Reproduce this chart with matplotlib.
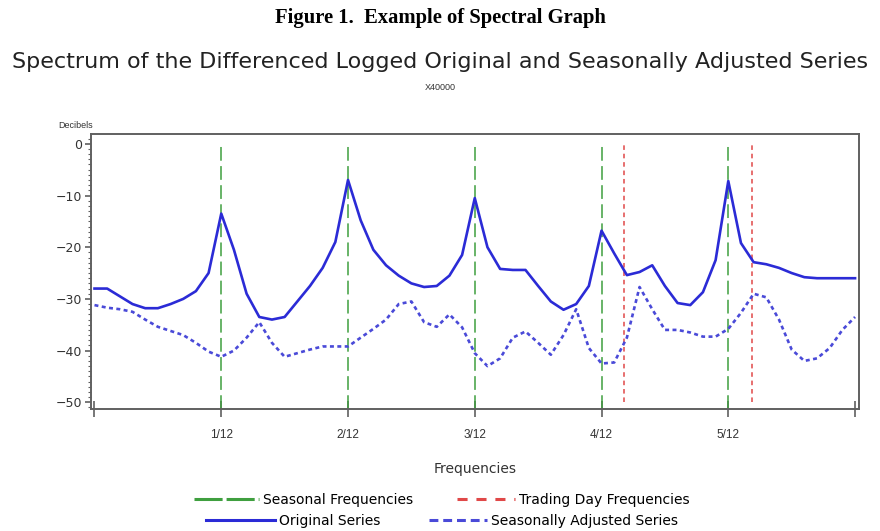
import numpy as np
import matplotlib
matplotlib.use("Agg")
import matplotlib.pyplot as plt
from matplotlib.lines import Line2D
from matplotlib.ticker import MultipleLocator

# spectrum grid: 61 frequencies from 0 to 0.5 cycles/month
freqs = np.arange(61) / 120

# differenced logged original series (decibels)
orig_db = [
    -28.0, -28.0, -29.5, -31.0, -31.8, -31.8, -31.0, -30.0, -28.5, -25.0,
    -13.5, -20.5, -29.0, -33.5, -34.0, -33.5, -30.5, -27.5, -24.0, -19.0,
    -7.0, -14.8, -20.5, -23.5, -25.5, -27.0, -27.7, -27.5, -25.5, -21.5,
    -10.5, -20.0, -24.2, -24.4, -24.4, -27.5, -30.5, -32.1, -31.0, -27.5,
    -16.8, -21.2, -25.4, -24.8, -23.5, -27.5, -30.8, -31.2, -28.7, -22.5,
    -7.2, -19.2, -22.9, -23.3, -24.0, -25.0, -25.8, -26.0, -26.0, -26.0,
    -26.0,
]

# differenced logged seasonally adjusted series (decibels)
sa_db = [
    -31.2, -31.7, -32.0, -32.5, -34.0, -35.4, -36.2, -37.0, -38.5, -40.2,
    -41.2, -40.0, -37.5, -34.5, -38.5, -41.2, -40.5, -39.8, -39.2, -39.2,
    -39.2, -37.5, -35.8, -34.0, -31.0, -30.5, -34.5, -35.4, -33.0, -35.5,
    -40.5, -43.0, -41.5, -37.5, -36.3, -38.5, -40.8, -37.0, -32.0, -39.5,
    -42.5, -42.3, -37.5, -27.7, -32.0, -36.0, -36.0, -36.5, -37.3, -37.3,
    -35.8, -32.7, -29.0, -29.7, -34.0, -39.8, -42.0, -41.5, -39.5, -36.0,
    -33.5,
]

seasonal_freqs = [1 / 12, 2 / 12, 3 / 12, 4 / 12, 5 / 12]
td_freqs = [0.348, 0.432]

xtick_vals = [0, 1 / 12, 2 / 12, 3 / 12, 4 / 12, 5 / 12, 6 / 12]
xtick_labels = ["", "1/12", "2/12", "3/12", "4/12", "5/12", ""]
ytick_vals = [0, -10, -20, -30, -40, -50]
ytick_labels = ["0", "\u221210", "\u221220", "\u221230", "\u221240", "\u221250"]

SANS = "Liberation Sans"
WIDE = "DejaVu Sans"
GREEN = "#3f9f3f"
RED = "#e04848"
BLUE = "#2b2bd6"
BLUE_SA = "#4a4ad8"
FRAME = "#606060"
TXT = "#333333"

fig = plt.figure(figsize=(8.8, 5.31), dpi=100)
ax = fig.add_axes([91 / 880, 1 - 409 / 531, (859 - 91) / 880, (409 - 134) / 531])

# reference lines at seasonal and trading day frequencies
ax.vlines(seasonal_freqs, -51.3, 0, colors=GREEN, linestyles=(0, (9, 3.5)), linewidth=1.1)
ax.vlines(td_freqs, -50, 0, colors=RED, linestyles=(0, (3, 2.5)), linewidth=1.1)

ax.plot(freqs, orig_db, color=BLUE, linewidth=1.9)
ax.plot(freqs, sa_db, color=BLUE_SA, linewidth=1.9, linestyle=(0, (1.5, 1.3)))

ax.set_xlim(-0.0023, 0.5026)
ax.set_ylim(-51.3, 1.9)

ax.set_xticks(xtick_vals)
ax.set_xticklabels(xtick_labels, fontsize=8.5, family=SANS, color=TXT)
ax.set_yticks(ytick_vals)
ax.set_yticklabels(ytick_labels, fontsize=9, family=WIDE, color=TXT)
ax.yaxis.set_minor_locator(MultipleLocator(1))
ax.tick_params(axis="x", direction="inout", length=11, width=1.2, color=FRAME, pad=9)
ax.tick_params(axis="y", which="major", direction="out", length=4.3, width=1.2, color=FRAME, pad=2)
ax.tick_params(axis="y", which="minor", direction="out", length=2, width=0.8, color=FRAME)
for sp in ax.spines.values():
    sp.set_color(FRAME)
    sp.set_linewidth(1.4)

ax.set_xlabel("Frequencies", fontsize=10, family=WIDE, color=TXT, labelpad=15)
fig.text(58 / 880, 1 - 125 / 531, "Decibels", fontsize=6.5, family=SANS,
         color=TXT, ha="left", va="center")

# titles
fig.text(0.5, 1 - 18 / 531, "Figure 1.  Example of Spectral Graph",
         fontsize=14.9, family="Liberation Serif", weight="bold", ha="center", va="center")
fig.text(0.5, 1 - 62 / 531,
         "Spectrum of the Differenced Logged Original and Seasonally Adjusted Series",
         fontsize=16, family=WIDE, ha="center", va="center", color="#222222")
fig.text(0.5, 1 - 88 / 531, "X40000", fontsize=6.5, family=SANS,
         ha="center", va="center", color=TXT)

# legend, two centred rows
entries = [
    (Line2D([], [], color=GREEN, linestyle=(0, (9.2, 1.3)), linewidth=2.2), "Seasonal Frequencies", 194, 500, 4.7),
    (Line2D([], [], color=RED, linestyle=(0, (3.3, 2.9)), linewidth=2.2), "Trading Day Frequencies", 457, 500, 4.2),
    (Line2D([], [], color=BLUE, linewidth=2.2), "Original Series", 206, 521, 5.0),
    (Line2D([], [], color=BLUE_SA, linestyle=(0, (2.9, 1.6)), linewidth=2.2), "Seasonally Adjusted Series", 429, 521, 4.2),
]
for handle, label, x0, y0, hl in entries:
    fig.legend(handles=[handle], labels=[label], loc="center left",
               bbox_to_anchor=(x0 / 880, 1 - y0 / 531), frameon=False,
               handlelength=hl, handletextpad=0.25, borderpad=0, borderaxespad=0,
               prop={"family": WIDE, "size": 10})

fig.savefig("out.png", dpi=100)
